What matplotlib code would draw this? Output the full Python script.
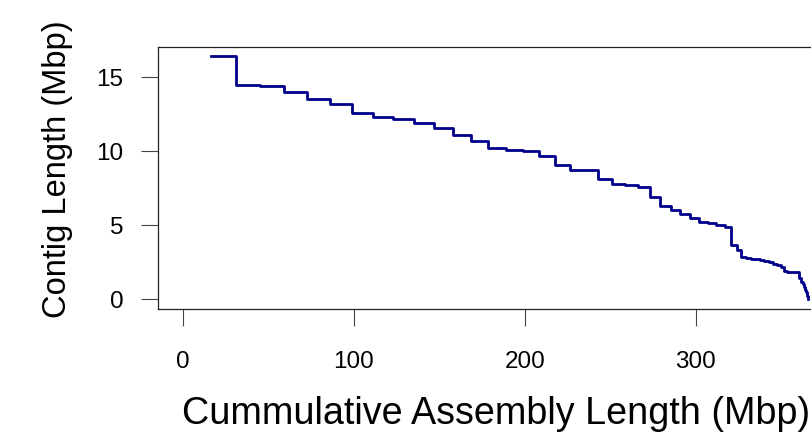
import numpy as np
import matplotlib
matplotlib.use("Agg")
import matplotlib.pyplot as plt
from matplotlib import font_manager

plt.rcParams['font.family'] = ['Liberation Sans', 'DejaVu Sans']

# contig lengths (Mbp), sorted descending
contig_lengths = [16.4, 14.5, 14.4, 14.0, 13.5, 13.2, 12.6, 12.3, 12.2, 11.9,
                  11.6, 11.1, 10.7, 10.2, 10.1, 10.0, 9.65, 9.05, 8.75, 8.7,
                  8.1, 7.8, 7.7, 7.6, 6.9, 6.3, 6.05, 5.75, 5.5, 5.25,
                  5.15, 5.05, 4.85, 3.7, 3.3, 2.85, 2.8, 2.75, 2.7, 2.65,
                  2.6, 2.5, 2.4, 2.3, 2.2, 1.9, 1.85, 1.83, 1.82, 1.81,
                  1.45, 1.2, 1.0, 0.8, 0.65, 0.5, 0.4, 0.3, 0.2, 0.1, 0.05]
x_ticks = [0, 100, 200, 300]
y_ticks = [0, 5, 10, 15]

cum_len = np.cumsum(contig_lengths)

# y label in the reference is squeezed along its length
try:
    font_manager.findfont('Liberation Sans Narrow', fallback_to_default=False)
    ylab_family, ylab_size = ['Liberation Sans Narrow', 'Liberation Sans'], 28.5
except ValueError:
    ylab_family, ylab_size = ['Liberation Sans'], 23.5

W, H = 812, 432
fig = plt.figure(figsize=(W / 100, H / 100), dpi=100)
# plot region runs past the right edge (reference is cropped there)
ax = fig.add_axes([157.7 / W, (H - 309) / H, (840.7 - 157.7) / W, (309 - 46.7) / H])

ax.step(cum_len, contig_lengths, where='post', color='#00008b', lw=2.0)

ax.set_xlim(-14.8, 384.8)
ax.set_ylim(-0.656, 17.06)
ax.set_xticks(x_ticks)
ax.set_yticks(y_ticks)
ax.tick_params(axis='both', direction='out', length=12.2, width=0.8,
               color='#444444', labelsize=17.5)
ax.tick_params(axis='x', pad=18)
ax.tick_params(axis='y', pad=12.5)
for s in ax.spines.values():
    s.set_linewidth(0.9)
    s.set_color('#222222')

fig.text(496 / W, (H - 424) / H, 'Cummulative Assembly Length (Mbp)',
         ha='center', va='baseline', fontsize=27.2)
fig.text(58 / W, (H - 20.7) / H, 'Contig Length (Mbp)', rotation=90,
         ha='center', va='top', fontsize=ylab_size, family=ylab_family)

fig.savefig('out.png', dpi=100)
